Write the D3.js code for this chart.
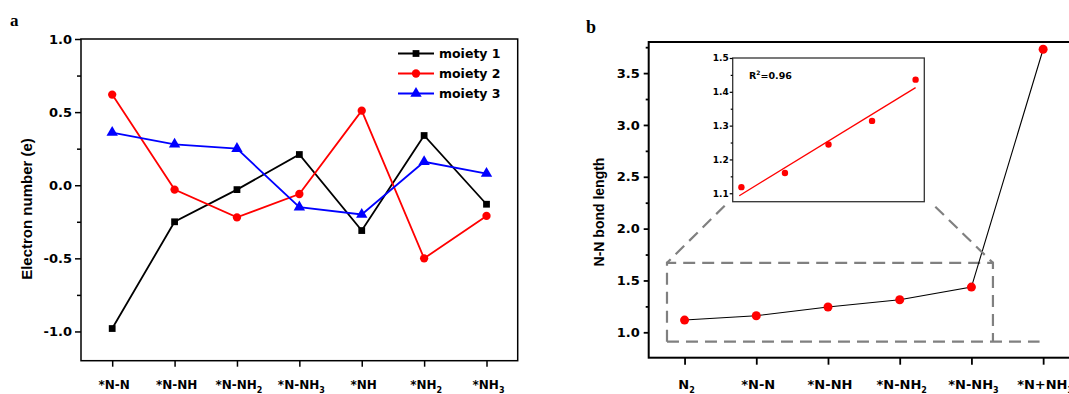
<!DOCTYPE html>
<html><head><meta charset="utf-8">
<script src="https://cdn.jsdelivr.net/npm/d3@7"></script>
<style>body{margin:0;background:#fff}svg{display:block}</style>
</head><body><svg id="c" width="1069" height="394"></svg>
<script>
// ---------- data ----------
const categoriesA = ["*N-N","*N-NH","*N-NH2","*N-NH3","*NH","*NH2","*NH3"];
const moiety1 = [-0.98,-0.25,-0.03,0.21,-0.31,0.34,-0.13];
const moiety2 = [0.62,-0.03,-0.22,-0.06,0.51,-0.50,-0.21];
const moiety3 = [0.36,0.28,0.25,-0.15,-0.20,0.16,0.08];
const seriesNames = ["moiety 1","moiety 2","moiety 3"];
const seriesColors = ["#000000","#ff0000","#0000ff"];
const yTicksA = [-1.0,-0.5,0.0,0.5,1.0];
const yMinorA = [-0.75,-0.25,0.25,0.75];

const categoriesB = ["N2","*N-N","*N-NH","*N-NH2","*N-NH3","*N+NH3"];
const bondLength = [1.118,1.16,1.244,1.314,1.436,3.73];
const yTicksB = [1.0,1.5,2.0,2.5,3.0,3.5];
const yMinorB = [1.25,1.75,2.25,2.75,3.25,3.75];
const insetTicks = [1.1,1.2,1.3,1.4,1.5];
const insetMinor = [1.15,1.25,1.35,1.45];
const r2Value = "0.96";

// ---------- helpers ----------
const svg = d3.select("#c");
const TICKFONT = "'DejaVu Sans', sans-serif";
const LABFONT = "'Liberation Sans', Arial, sans-serif";
function subLabel(sel, label, fs, subfs){
  const m = label.match(/^(.*?)(\d)$/);
  if(m){
    sel.append("tspan").text(m[1]);
    sel.append("tspan").attr("font-size", subfs).attr("dy", 4).text(m[2]);
  } else sel.text(label);
}
const fmt = d => (Math.abs(d) < 1e-9 ? 0 : d).toFixed(1);

// ================= Panel a =================
const A = {l:81, r:517.7, t:39, b:360.7};
const xA = d3.scalePoint().domain(categoriesA).range([A.l, A.r]).padding(0.5);
const yA = d3.scaleLinear().domain([-1.2, 1.0]).range([A.b, A.t]);
const gA = svg.append("g");

gA.append("rect").attr("x",A.l).attr("y",A.t).attr("width",A.r-A.l).attr("height",A.b-A.t)
  .attr("fill","none").attr("stroke","#000").attr("stroke-width",1.5);

const axLA = gA.append("g").attr("transform",`translate(${A.l},0)`)
  .call(d3.axisLeft(yA).tickValues(yTicksA).tickSize(6).tickPadding(3).tickFormat(fmt));
axLA.select(".domain").remove();
axLA.selectAll("line").attr("stroke-width",1.5);
axLA.selectAll("text").attr("font-family",TICKFONT).attr("font-weight","bold").attr("font-size",13).attr("fill","#000");
const axLAm = gA.append("g").attr("transform",`translate(${A.l},0)`)
  .call(d3.axisLeft(yA).tickValues(yMinorA).tickSize(4).tickFormat(""));
axLAm.select(".domain").remove();
axLAm.selectAll("line").attr("stroke-width",1.5);

const axBA = gA.append("g").attr("transform",`translate(0,${A.b})`)
  .call(d3.axisBottom(xA).tickSize(6).tickFormat(""));
axBA.select(".domain").remove();
axBA.selectAll("line").attr("stroke-width",1.5);
categoriesA.forEach(c => {
  const t = gA.append("text").attr("x", xA(c)+2).attr("y", 389)
    .attr("text-anchor","middle").attr("font-family",TICKFONT).attr("font-weight","bold")
    .attr("font-size",12).attr("fill","#000");
  subLabel(t, c, 12, 8);
});

gA.append("text").attr("transform",`translate(32,209) rotate(-90)`).attr("text-anchor","middle")
  .attr("font-family",LABFONT).attr("font-weight","bold").attr("font-size",15).text("Electron number (e)");
gA.append("text").attr("x",10).attr("y",26).attr("font-family","'Liberation Serif', 'Times New Roman', serif")
  .attr("font-weight","bold").attr("font-size",17).text("a");

const seriesA = [moiety1, moiety2, moiety3];
const symbols = [d3.symbolSquare, d3.symbolCircle, d3.symbolTriangle];
const symSizes = [46, 54, 56];
const lineA = d3.line().x((d,i)=>xA(categoriesA[i])).y(d=>yA(d));
seriesA.forEach((vals, si) => {
  gA.append("path").attr("d", lineA(vals)).attr("fill","none")
    .attr("stroke", seriesColors[si]).attr("stroke-width",1.8);
});
seriesA.forEach((vals, si) => {
  gA.selectAll(null).data(vals).join("path")
    .attr("transform",(d,i)=>`translate(${xA(categoriesA[i])},${yA(d)})`)
    .attr("d", d3.symbol(symbols[si], symSizes[si])()).attr("fill", seriesColors[si]);
});
// legend
const leg = gA.append("g");
seriesNames.forEach((n, si) => {
  const yy = 53.5 + si*20;
  leg.append("line").attr("x1",398).attr("x2",434).attr("y1",yy).attr("y2",yy)
    .attr("stroke",seriesColors[si]).attr("stroke-width",1.8);
  leg.append("path").attr("transform",`translate(416,${yy})`)
    .attr("d", d3.symbol(symbols[si], symSizes[si])()).attr("fill",seriesColors[si]);
  leg.append("text").attr("x",439).attr("y",yy+4.5).attr("font-family",TICKFONT)
    .attr("font-weight","bold").attr("font-size",12.5).text(n);
});

// ================= Panel b =================
const B = {l:648.7, r:1079, t:42, b:357.7};
const xB = d3.scalePoint().domain(categoriesB).range([B.l, B.r]).padding(0.5);
const yB = d3.scaleLinear().domain([0.755, 3.8]).range([B.b, B.t]);
const gB = svg.append("g");
gB.append("rect").attr("x",B.l).attr("y",B.t).attr("width",B.r-B.l).attr("height",B.b-B.t)
  .attr("fill","none").attr("stroke","#000").attr("stroke-width",2);

const axLB = gB.append("g").attr("transform",`translate(${B.l},0)`)
  .call(d3.axisLeft(yB).tickValues(yTicksB).tickSize(5).tickPadding(4).tickFormat(fmt));
axLB.select(".domain").remove();
axLB.selectAll("line").attr("stroke-width",1.8);
axLB.selectAll("text").attr("font-family",TICKFONT).attr("font-weight","bold").attr("font-size",13).attr("fill","#000");
const axLBm = gB.append("g").attr("transform",`translate(${B.l},0)`)
  .call(d3.axisLeft(yB).tickValues(yMinorB).tickSize(3).tickFormat(""));
axLBm.select(".domain").remove();
axLBm.selectAll("line").attr("stroke-width",1.8);
const axBB = gB.append("g").attr("transform",`translate(0,${B.b})`)
  .call(d3.axisBottom(xB).tickSize(7).tickFormat(""));
axBB.select(".domain").remove();
axBB.selectAll("line").attr("stroke-width",1.8);
categoriesB.forEach(c => {
  const t = gB.append("text").attr("x", xB(c)+2).attr("y", 389)
    .attr("text-anchor","middle").attr("font-family",TICKFONT).attr("font-weight","bold")
    .attr("font-size",13).attr("fill","#000");
  subLabel(t, c, 13, 8);
});
gB.append("text").attr("transform",`translate(604,212) rotate(-90)`).attr("text-anchor","middle")
  .attr("font-family",LABFONT).attr("font-weight","bold").attr("font-size",14).text("N-N bond length");
gB.append("text").attr("x",586).attr("y",33).attr("font-family","'Liberation Serif', 'Times New Roman', serif")
  .attr("font-weight","bold").attr("font-size",18).text("b");

// dashed zoom box (data units)
const boxX0 = -0.245, boxX1 = 4.30, boxXEnd = 4.95, boxY0 = 0.91, boxY1 = 1.67;
const xi = i => xB(categoriesB[0]) + i * xB.step();
const dash = {stroke:"#808080", "stroke-width":2.2, "stroke-dasharray":"12,7", fill:"none"};
function dline(pts){
  const p = gB.append("path").attr("d", d3.line()(pts));
  Object.entries(dash).forEach(([k,v])=>p.attr(k,v));
}
dline([[xi(boxX0), yB(boxY0)],[xi(boxXEnd), yB(boxY0)]]);
dline([[xi(boxX0), yB(boxY0)],[xi(boxX0), yB(boxY1)],[xi(boxX1), yB(boxY1)],[xi(boxX1), yB(boxY0)]]);

// main line and points
const lineB = d3.line().x((d,i)=>xB(categoriesB[i])).y(d=>yB(d));
gB.append("path").attr("d", lineB(bondLength)).attr("fill","none").attr("stroke","#000").attr("stroke-width",1.1);
gB.selectAll(null).data(bondLength).join("circle")
  .attr("cx",(d,i)=>xB(categoriesB[i])).attr("cy",d=>yB(d)).attr("r",4.5).attr("fill","#ff0000");

// inset
const I = {l:732.7, r:924.3, t:58, b:201.7};
const insetVals = bondLength.slice(0,5);
const xI = d3.scaleLinear().domain([-0.2, 4.2]).range([I.l, I.r]);
const yI = d3.scaleLinear().domain([1.075, 1.5]).range([I.b, I.t]);
dline([[I.l - 8, I.b + 4],[xi(boxX0), yB(boxY1)]]);
dline([[I.r + 11, I.b + 5],[xi(boxX1), yB(boxY1)]]);
gB.append("rect").attr("x",I.l).attr("y",I.t).attr("width",I.r-I.l).attr("height",I.b-I.t)
  .attr("fill","#fff").attr("stroke","#333").attr("stroke-width",1.3);
const axI = gB.append("g").attr("transform",`translate(${I.l},0)`)
  .call(d3.axisLeft(yI).tickValues(insetTicks).tickSize(3).tickPadding(1).tickFormat(fmt));
axI.select(".domain").remove();
axI.selectAll("line").attr("stroke-width",1.2);
axI.selectAll("text").attr("font-family",TICKFONT).attr("font-weight","bold").attr("font-size",9).attr("fill","#000");
const axIm = gB.append("g").attr("transform",`translate(${I.l},0)`)
  .call(d3.axisLeft(yI).tickValues(insetMinor).tickSize(2).tickFormat(""));
axIm.select(".domain").remove();
axIm.selectAll("line").attr("stroke-width",1.2);
// least-squares fit
const n = insetVals.length;
const mx = d3.mean(insetVals, (d,i)=>i), my = d3.mean(insetVals);
const slope = d3.sum(insetVals,(d,i)=>(i-mx)*(d-my)) / d3.sum(insetVals,(d,i)=>(i-mx)*(i-mx));
const icpt = my - slope*mx;
gB.append("line").attr("x1",xI(-0.05)).attr("y1",yI(icpt+slope*(-0.05)))
  .attr("x2",xI(n-1)).attr("y2",yI(icpt+slope*(n-1)))
  .attr("stroke","#ff0000").attr("stroke-width",1.3);
gB.selectAll(null).data(insetVals).join("circle")
  .attr("cx",(d,i)=>xI(i)).attr("cy",d=>yI(d)).attr("r",3.2).attr("fill","#ff0000");
const rt = gB.append("text").attr("x",749).attr("y",79).attr("font-family",TICKFONT)
  .attr("font-weight","bold").attr("font-size",9.5);
rt.append("tspan").text("R");
rt.append("tspan").attr("font-size",6).attr("dy",-4).text("2");
rt.append("tspan").attr("dy",4).text("=" + r2Value);
</script></body></html>
